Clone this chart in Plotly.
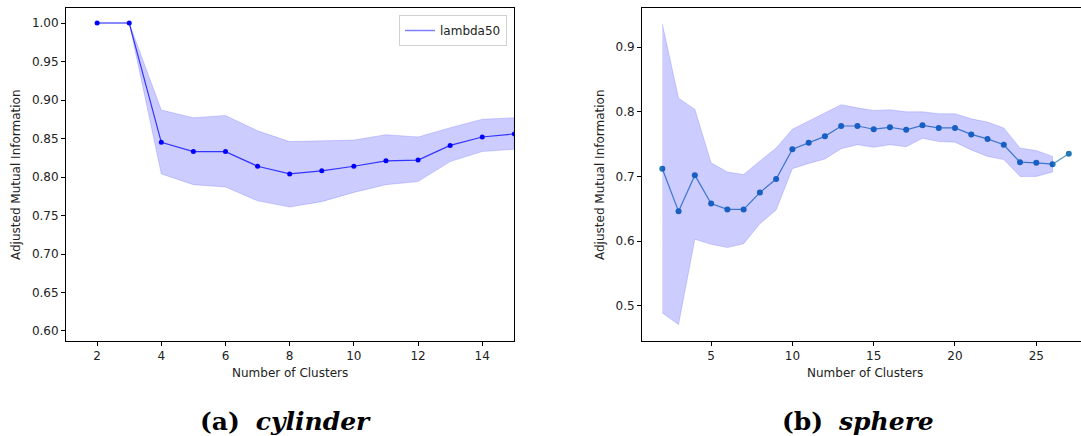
import plotly.graph_objects as go

# ---- cylinder (lambda50) ----
cyl_k = [2, 3, 4, 5, 6, 7, 8, 9, 10, 11, 12, 13, 14, 15]
cyl_mean = [1.000, 1.000, 0.845, 0.833, 0.833, 0.814, 0.804, 0.808, 0.814, 0.821, 0.822, 0.841, 0.852, 0.856]
cyl_upper = [1.000, 1.000, 0.887, 0.877, 0.880, 0.860, 0.846, 0.847, 0.848, 0.855, 0.852, 0.864, 0.875, 0.877]
cyl_lower = [1.000, 1.000, 0.804, 0.790, 0.787, 0.769, 0.761, 0.768, 0.780, 0.790, 0.794, 0.820, 0.833, 0.836]

# ---- sphere ----
sph_k = [2, 3, 4, 5, 6, 7, 8, 9, 10, 11, 12, 13, 14, 15, 16, 17, 18, 19, 20, 21, 22, 23, 24, 25, 26, 27]
sph_mean = [0.712, 0.646, 0.702, 0.658, 0.649, 0.649, 0.675, 0.696, 0.742, 0.752, 0.762, 0.778, 0.778,
            0.773, 0.776, 0.772, 0.779, 0.775, 0.775, 0.765, 0.758, 0.749, 0.722, 0.721, 0.719, 0.735]
# spread band only exists up to k = 26
sph_band_k = sph_k[:-1]
sph_upper = [0.936, 0.821, 0.804, 0.721, 0.707, 0.703, 0.724, 0.744, 0.773, 0.786, 0.799, 0.811, 0.806,
             0.802, 0.803, 0.800, 0.800, 0.797, 0.797, 0.789, 0.784, 0.775, 0.744, 0.740, 0.731]
sph_lower = [0.489, 0.471, 0.603, 0.595, 0.590, 0.596, 0.627, 0.648, 0.712, 0.720, 0.727, 0.743, 0.749,
             0.745, 0.749, 0.746, 0.759, 0.754, 0.753, 0.741, 0.731, 0.726, 0.700, 0.700, 0.707]

cyl_xticks = [2, 4, 6, 8, 10, 12, 14]
cyl_yticks = [0.60, 0.65, 0.70, 0.75, 0.80, 0.85, 0.90, 0.95, 1.00]
sph_xticks = [5, 10, 15, 20, 25]
sph_yticks = [0.5, 0.6, 0.7, 0.8, 0.9]

W, H = 1081, 436
TXT = "#222222"
FONT = "DejaVu Sans"

fig = go.Figure()

# cylinder: mean line + markers
fig.add_trace(go.Scatter(
    x=cyl_k, y=cyl_mean, mode="lines+markers", xaxis="x", yaxis="y",
    line=dict(color="rgba(0,0,255,0.75)", width=1.2),
    marker=dict(color="#0000ff", size=5), showlegend=False, hoverinfo="skip"))
# cylinder: spread band
fig.add_trace(go.Scatter(
    x=cyl_k + cyl_k[::-1], y=cyl_upper + cyl_lower[::-1], mode="lines", fill="toself",
    xaxis="x", yaxis="y", fillcolor="rgba(0,0,255,0.2)",
    line=dict(color="rgba(0,0,255,0.15)", width=1), showlegend=False, hoverinfo="skip"))
# legend entry
fig.add_trace(go.Scatter(
    x=[None], y=[None], mode="lines", name="lambda50", xaxis="x", yaxis="y",
    line=dict(color="rgba(0,0,255,0.5)", width=1.5), showlegend=True))

# sphere: mean line + markers
fig.add_trace(go.Scatter(
    x=sph_k, y=sph_mean, mode="lines+markers", xaxis="x2", yaxis="y2",
    line=dict(color="rgba(31,119,180,0.8)", width=1.2),
    marker=dict(color="#1f77b4", size=6), showlegend=False, hoverinfo="skip"))
# sphere: spread band drawn over the line
fig.add_trace(go.Scatter(
    x=sph_band_k + sph_band_k[::-1], y=sph_upper + sph_lower[::-1], mode="lines", fill="toself",
    xaxis="x2", yaxis="y2", fillcolor="rgba(0,0,255,0.2)",
    line=dict(color="rgba(0,0,255,0.15)", width=1), showlegend=False, hoverinfo="skip"))

y_dom = [(H - 341) / H, (H - 8) / H]
axis_common = dict(showgrid=False, zeroline=False, showline=True, linecolor="black", linewidth=1,
                   ticks="outside", ticklen=4, tickcolor="black", tickwidth=1,
                   tickfont=dict(family=FONT, size=12, color=TXT))

fig.update_layout(
    width=W, height=H, margin=dict(l=0, r=0, t=0, b=0),
    paper_bgcolor="white", plot_bgcolor="white",
    xaxis=dict(domain=[66 / W, 514 / W], range=[1.03, 14.99], tickvals=cyl_xticks,
               mirror=True, anchor="y", **axis_common),
    yaxis=dict(domain=y_dom, range=[0.587, 1.0195], tickvals=cyl_yticks, tickformat=".2f",
               mirror=True, anchor="x", **axis_common),
    xaxis2=dict(domain=[642 / W, 1.0], range=[0.75, 27.75], tickvals=sph_xticks,
                mirror=True, anchor="y2", **axis_common),
    yaxis2=dict(domain=y_dom, range=[0.4456, 0.9604], tickvals=sph_yticks, tickformat=".1f",
                mirror=False, anchor="x2", **axis_common),
    legend=dict(x=507 / W, xanchor="right", y=(H - 15) / H, yanchor="top",
                bgcolor="rgba(255,255,255,0.8)", bordercolor="#d0d0d0", borderwidth=1,
                font=dict(family=FONT, size=12, color=TXT), itemwidth=30,
                tracegroupgap=0),
    showlegend=True,
)


def note(text, x, y, size, family=FONT, color=TXT, angle=0):
    return dict(text=text, x=x / W, y=(H - y) / H, xref="paper", yref="paper",
                xanchor="center", yanchor="middle", showarrow=False, textangle=angle,
                font=dict(family=family, size=size, color=color))


annotations = [
    note("Number of Clusters", 290, 373, 12),
    note("Number of Clusters", 865, 373, 12),
    note("Adjusted Mutual Information", 16, 175, 12, angle=-90),
    note("Adjusted Mutual Information", 600, 175, 12, angle=-90),
    note("<b>(a)</b>  <b><i>cylinder</i></b>", 285, 421, 25, family="DejaVu Serif", color="black"),
    note("<b>(b)</b>  <b><i>sphere</i></b>", 858, 421, 25, family="DejaVu Serif", color="black"),
]
fig.update_layout(annotations=annotations)

fig.write_html("out.html")
